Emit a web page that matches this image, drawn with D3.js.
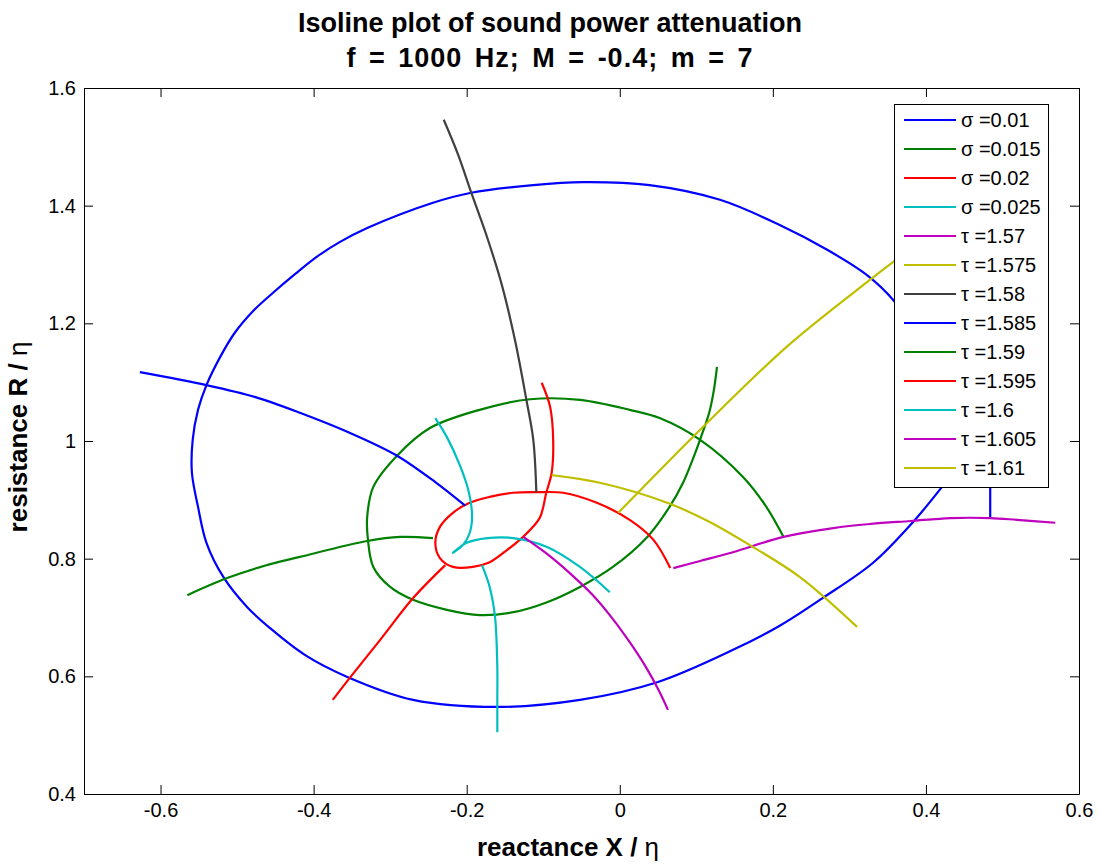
<!DOCTYPE html>
<html>
<head>
<meta charset="utf-8">
<script src="https://cdn.jsdelivr.net/npm/d3@7"></script>
<style>
  body { margin: 0; background: #fff; }
  text { font-family: "Liberation Sans", Arial, Helvetica, sans-serif; }
</style>
</head>
<body>
<div id="chart"></div>
<script>
const titleLines = ['Isoline plot of sound power attenuation', 'f = 1000 Hz; M = -0.4; m = 7']
const xLabel = ['reactance X / ', 'η']
const yLabel = ['resistance R / ', 'η']

const xTicks = [-0.6, -0.4, -0.2, 0, 0.2, 0.4, 0.6]
const xTickLabels = ['-0.6', '-0.4', '-0.2', '0', '0.2', '0.4', '0.6']
const yTicks = [0.4, 0.6, 0.8, 1.0, 1.2, 1.4, 1.6]
const yTickLabels = ['0.4', '0.6', '0.8', '1', '1.2', '1.4', '1.6']

const seriesNames = [
  'σ =0.01', 'σ =0.015', 'σ =0.02', 'σ =0.025',
  'τ =1.57', 'τ =1.575', 'τ =1.58', 'τ =1.585', 'τ =1.59',
  'τ =1.595', 'τ =1.6', 'τ =1.605', 'τ =1.61'
]

// points are [reactance X, resistance R]; null breaks the line
const sigma010 = [
  [0.421, 0.922], [0.383, 0.862], [0.331, 0.793], [0.265, 0.733], [0.209, 0.686],
  [0.148, 0.645], [0.049, 0.590], [-0.052, 0.560], [-0.160, 0.548], [-0.270, 0.560],
  [-0.356, 0.599], [-0.411, 0.636], [-0.457, 0.682], [-0.487, 0.718], [-0.518, 0.769],
  [-0.540, 0.827], [-0.551, 0.888], [-0.559, 0.946], [-0.558, 1.002], [-0.551, 1.053],
  [-0.540, 1.095], [-0.522, 1.143], [-0.503, 1.184], [-0.479, 1.221], [-0.453, 1.252],
  [-0.424, 1.284], [-0.396, 1.313], [-0.366, 1.338], [-0.330, 1.362], [-0.244, 1.405],
  [-0.194, 1.422], [-0.113, 1.435], [-0.048, 1.440], [0.039, 1.435], [0.131, 1.410],
  [0.209, 1.367], [0.271, 1.325], [0.323, 1.282], [0.357, 1.240], [0.392, 1.172],
  [0.418, 1.087], [0.429, 1.002], [0.425, 0.942], [0.421, 0.922],
  null,
  [0.484, 0.869], [0.484, 0.951]
]
const sigma015 = [
  [0.127, 1.126], [0.123, 1.087], [0.117, 1.049], [0.107, 1.010], [0.096, 0.971],
  [0.083, 0.930], [0.065, 0.888], [0.036, 0.837], [-0.009, 0.786], [-0.052, 0.752],
  [-0.095, 0.726], [-0.139, 0.709], [-0.183, 0.704], [-0.226, 0.713], [-0.270, 0.730],
  [-0.300, 0.752], [-0.322, 0.786], [-0.329, 0.832], [-0.330, 0.871], [-0.322, 0.922],
  [-0.291, 0.975], [-0.248, 1.022], [-0.183, 1.053], [-0.117, 1.071], [-0.052, 1.070],
  [0.013, 1.053], [0.052, 1.039], [0.105, 1.002], [0.161, 0.939], [0.190, 0.891],
  [0.214, 0.837]
]
const sigma020 = [
  [-0.102, 1.099], [-0.091, 1.058], [-0.087, 1.002], [-0.089, 0.946], [-0.096, 0.912],
  [-0.104, 0.871], [-0.117, 0.849], [-0.128, 0.835], [-0.147, 0.815], [-0.170, 0.794],
  [-0.192, 0.786], [-0.218, 0.786], [-0.235, 0.801], [-0.241, 0.827], [-0.235, 0.854],
  [-0.218, 0.878], [-0.196, 0.895], [-0.170, 0.905], [-0.139, 0.912], [-0.108, 0.913],
  [-0.074, 0.912], [-0.030, 0.895], [0.013, 0.866], [0.044, 0.832], [0.066, 0.784]
]
const sigma025 = [
  [-0.241, 1.039], [-0.226, 1.007], [-0.209, 0.959], [-0.198, 0.917], [-0.193, 0.874],
  [-0.196, 0.844], [-0.205, 0.823], [-0.218, 0.810],
  [-0.200, 0.827], [-0.173, 0.835], [-0.139, 0.835], [-0.095, 0.820], [-0.052, 0.786],
  [-0.013, 0.743]
]
const tau1570 = [
  [0.070, 0.784], [0.105, 0.796], [0.148, 0.811], [0.214, 0.837], [0.279, 0.852],
  [0.328, 0.859], [0.380, 0.864], [0.432, 0.869], [0.484, 0.869], [0.519, 0.866],
  [0.569, 0.861]
]
const tau1575 = [
  [-0.002, 0.878], [0.053, 0.951], [0.105, 1.019], [0.218, 1.160], [0.323, 1.270],
  [0.357, 1.304], [0.386, 1.331]
]
const tau1580 = [
  [-0.230, 1.546], [-0.211, 1.486], [-0.194, 1.422], [-0.173, 1.345], [-0.154, 1.265],
  [-0.137, 1.172], [-0.122, 1.070], [-0.113, 1.002], [-0.109, 0.913]
]
const tau1585 = [
  [-0.627, 1.117], [-0.540, 1.095], [-0.477, 1.075], [-0.418, 1.048], [-0.353, 1.014],
  [-0.291, 0.975], [-0.241, 0.930], [-0.202, 0.890]
]
const tau1590 = [
  [-0.565, 0.738], [-0.513, 0.767], [-0.464, 0.788], [-0.418, 0.803], [-0.330, 0.830],
  [-0.287, 0.837], [-0.244, 0.835]
]
const tau1595 = [
  [-0.375, 0.560], [-0.353, 0.597], [-0.313, 0.662], [-0.270, 0.733], [-0.228, 0.789]
]
const tau1600 = [
  [-0.160, 0.505], [-0.160, 0.560], [-0.160, 0.616], [-0.163, 0.701], [-0.170, 0.752],
  [-0.180, 0.789]
]
const tau1605 = [
  [-0.126, 0.837], [-0.095, 0.808], [-0.065, 0.775], [-0.036, 0.739], [-0.010, 0.699],
  [0.013, 0.658], [0.034, 0.616], [0.051, 0.576], [0.063, 0.543]
]
const tau1610 = [
  [-0.089, 0.942], [-0.026, 0.929], [0.062, 0.895], [0.118, 0.862], [0.170, 0.823],
  [0.235, 0.769], [0.310, 0.684]
]

const seriesPoints = [
  sigma010, sigma015, sigma020, sigma025,
  tau1570, tau1575, tau1580, tau1585, tau1590, tau1595, tau1600, tau1605, tau1610
]

// MATLAB default line colour order
const lineColors = ['#0000ff', '#008000', '#ff0000', '#00bfbf', '#bf00bf', '#bfbf00', '#404040']

const width = 1100
const height = 864
const margin = { top: 88, right: 21, bottom: 70, left: 84 }

const svg = d3.select('#chart')
  .append('svg')
  .attr('width', width)
  .attr('height', height)
  .attr('viewBox', [0, 0, width, height].join(' '))

const x = d3.scaleLinear()
  .domain([-0.7, 0.6])
  .range([margin.left, width - margin.right])

const y = d3.scaleLinear()
  .domain([0.4, 1.6])
  .range([height - margin.bottom, margin.top])

const styleAxis = g => g
  .call(g => g.attr('font-family', null).attr('font-size', 20))
  .call(g => g.selectAll('.domain').attr('stroke', '#000'))
  .call(g => g.selectAll('.tick line').attr('stroke', '#000'))
  .call(g => g.selectAll('.tick text').attr('fill', '#000'))

const axes = svg.append('g').attr('class', 'axes')

axes.append('g')
  .attr('transform', `translate(0,${height - margin.bottom})`)
  .call(d3.axisBottom(x).tickValues(xTicks).tickFormat((d, i) => xTickLabels[i])
    .tickSize(-9).tickSizeOuter(0).tickPadding(9))
  .call(styleAxis)

axes.append('g')
  .attr('transform', `translate(0,${margin.top})`)
  .call(d3.axisTop(x).tickValues(xTicks).tickFormat('').tickSize(-9).tickSizeOuter(0))
  .call(styleAxis)

axes.append('g')
  .attr('transform', `translate(${margin.left},0)`)
  .call(d3.axisLeft(y).tickValues(yTicks).tickFormat((d, i) => yTickLabels[i])
    .tickSize(-9).tickSizeOuter(0).tickPadding(8))
  .call(styleAxis)

axes.append('g')
  .attr('transform', `translate(${width - margin.right},0)`)
  .call(d3.axisRight(y).tickValues(yTicks).tickFormat('').tickSize(-9).tickSizeOuter(0))
  .call(styleAxis)

// lines
const line = d3.line()
  .defined(d => d !== null)
  .x(d => x(d[0]))
  .y(d => y(d[1]))
  .curve(d3.curveCatmullRom.alpha(0.5))

svg.append('g')
  .attr('class', 'lines')
  .attr('fill', 'none')
  .attr('stroke-linejoin', 'round')
  .attr('stroke-linecap', 'butt')
  .selectAll('path')
  .data(seriesPoints)
  .join('path')
  .attr('stroke', (d, i) => lineColors[i % lineColors.length])
  .attr('stroke-width', 2.2)
  .attr('d', d => line(d))

// titles
svg.append('g')
  .attr('class', 'title')
  .selectAll('text')
  .data(titleLines)
  .join('text')
  .attr('x', 550)
  .attr('y', (d, i) => 32 + i * 35)
  .attr('text-anchor', 'middle')
  .attr('font-size', 27)
  .attr('font-weight', 'bold')
  .attr('word-spacing', (d, i) => i === 1 ? 4 : 0)
  .attr('letter-spacing', (d, i) => i === 1 ? 1 : 0)
  .attr('fill', '#000')
  .text(d => d)

const addLabel = (parts, transform) => {
  const t = svg.append('text')
    .attr('transform', transform)
    .attr('text-anchor', 'middle')
    .attr('font-size', 26)
    .attr('fill', '#000')
  t.append('tspan').attr('font-weight', 'bold').text(parts[0])
  t.append('tspan').text(parts[1])
}

addLabel(xLabel, 'translate(568,856)')
addLabel(yLabel, `translate(27,437) rotate(-90)`)

// legend
const legend = svg.append('g').attr('class', 'legend')
const legendBox = { x: 894, y: 104, w: 154, h: 383 }
const rowStep = 29

legend.append('rect')
  .attr('x', legendBox.x + 0.5)
  .attr('y', legendBox.y + 0.5)
  .attr('width', legendBox.w)
  .attr('height', legendBox.h)
  .attr('fill', '#fff')
  .attr('stroke', '#000')

const rows = legend.selectAll('g.row')
  .data(seriesNames)
  .join('g')
  .attr('class', 'row')
  .attr('transform', (d, i) => `translate(${legendBox.x},${legendBox.y + 16 + i * rowStep})`)

rows.append('line')
  .attr('x1', 10)
  .attr('x2', 62)
  .attr('stroke', (d, i) => lineColors[i % lineColors.length])
  .attr('stroke-width', 2.2)

rows.append('text')
  .attr('x', 67)
  .attr('dy', '0.35em')
  .attr('font-size', 20)
  .attr('fill', '#000')
  .text(d => d)
</script>
</body>
</html>
